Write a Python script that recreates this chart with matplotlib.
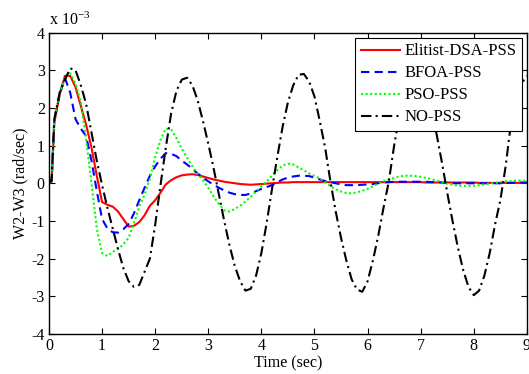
import numpy as np
import matplotlib
matplotlib.use("Agg")
import matplotlib.pyplot as plt

plt.rcParams['font.family'] = ['Liberation Serif', 'DejaVu Serif']
plt.rcParams['mathtext.fontset'] = 'stix'
plt.rcParams['axes.unicode_minus'] = False

# time grid (sec)
t_early = [0.0, 0.05]
t_main = np.round(np.arange(0.1, 9.0001, 0.1), 2)
time = np.concatenate([t_early, t_main])

# values in units of 1e-3 rad/sec
elitist_dsa = [0.0, 0.05,
    1.6, 2.35, 2.85, 2.85, 2.55, 2.05, 1.55, 0.95, 0.2, -0.5,
    -0.57, -0.62, -0.75, -0.95, -1.15, -1.13, -1.03, -0.85, -0.6, -0.45,
    -0.25, -0.03, 0.08, 0.16, 0.21, 0.23, 0.24, 0.22, 0.18, 0.14,
    0.1, 0.07, 0.04, 0.02, 0.0, -0.02, -0.03, -0.04, -0.03, -0.02,
    -0.01, 0.0, 0.01, 0.02, 0.02, 0.03, 0.03, 0.03, 0.03, 0.03,
    0.03, 0.03, 0.03, 0.03, 0.03, 0.03, 0.03, 0.03, 0.03, 0.03,
    0.03, 0.03, 0.03, 0.03, 0.03, 0.03, 0.03, 0.03, 0.03, 0.03,
    0.02, 0.02, 0.02, 0.02, 0.02, 0.02, 0.02, 0.02, 0.02, 0.02,
    0.01, 0.01, 0.01, 0.01, 0.01, 0.01, 0.01, 0.01, 0.01, 0.01]

bfoa = [0.0, 0.05,
    1.7, 2.35, 2.8, 2.4, 1.7, 1.45, 1.25, 0.6, -0.2, -0.95,
    -1.2, -1.3, -1.31, -1.22, -1.08, -0.8, -0.45, -0.12, 0.2, 0.45,
    0.65, 0.8, 0.78, 0.72, 0.6, 0.5, 0.38, 0.26, 0.15, 0.05,
    -0.04, -0.12, -0.19, -0.25, -0.29, -0.31, -0.31, -0.27, -0.21, -0.15,
    -0.1, -0.05, 0.03, 0.1, 0.15, 0.18, 0.2, 0.2, 0.19, 0.15,
    0.1, 0.06, 0.03, 0.0, -0.03, -0.05, -0.05, -0.05, -0.04, -0.03,
    -0.02, 0.0, 0.02, 0.03, 0.04, 0.04, 0.04, 0.04, 0.04, 0.04,
    0.04, 0.03, 0.03, 0.02, 0.01, 0.0, 0.0, 0.0, 0.0, 0.0,
    0.0, 0.0, 0.0, 0.0, 0.0, 0.01, 0.01, 0.02, 0.02, 0.02]

pso = [0.0, 0.05,
    1.7, 2.35, 2.8, 2.92, 2.65, 2.15, 1.15, 0.0, -1.2, -1.85,
    -1.93, -1.82, -1.75, -1.62, -1.45, -1.05, -0.62, -0.3, 0.12, 0.7,
    1.15, 1.45, 1.42, 1.2, 0.92, 0.68, 0.45, 0.25, 0.08, -0.12,
    -0.35, -0.55, -0.72, -0.75, -0.68, -0.6, -0.48, -0.36, -0.22, -0.08,
    0.05, 0.2, 0.35, 0.47, 0.52, 0.5, 0.42, 0.34, 0.26, 0.19,
    0.13, 0.03, -0.08, -0.16, -0.22, -0.26, -0.27, -0.24, -0.2, -0.15,
    -0.08, -0.01, 0.05, 0.1, 0.14, 0.18, 0.2, 0.2, 0.19, 0.17,
    0.14, 0.11, 0.07, 0.03, -0.01, -0.04, -0.06, -0.07, -0.07, -0.07,
    -0.05, -0.03, -0.01, 0.01, 0.03, 0.05, 0.06, 0.07, 0.07, 0.07]

no_pss = [0.0, 0.1,
    1.7, 2.4, 2.75, 3.05, 3.0, 2.6, 2.1, 1.35, 0.6, -0.05,
    -0.65, -1.2, -1.75, -2.25, -2.6, -2.75, -2.7, -2.35, -2.0, -1.1,
    -0.05, 0.95, 1.85, 2.45, 2.75, 2.8, 2.6, 2.2, 1.65, 1.05,
    0.4, -0.3, -1.0, -1.65, -2.2, -2.6, -2.85, -2.8, -2.45, -1.85,
    -1.05, -0.15, 0.7, 1.5, 2.15, 2.6, 2.88, 2.9, 2.7, 2.3,
    1.65, 0.95, 0.05, -0.75, -1.45, -2.05, -2.55, -2.82, -2.88, -2.6,
    -2.05, -1.4, -0.65, 0.05, 1.0, 1.8, 2.35, 2.7, 2.88, 2.8,
    2.5, 1.95, 1.3, 0.55, -0.25, -1.0, -1.7, -2.3, -2.75, -2.97,
    -2.85, -2.45, -1.85, -1.1, -0.45, 0.45, 1.6, 2.25, 2.65, 2.85]

labels = ['Elitist-DSA-PSS', 'BFOA-PSS', 'PSO-PSS', 'NO-PSS']
x_ticks = list(range(0, 10))
y_ticks = list(range(-4, 5))

fig = plt.figure(figsize=(5.29, 3.74), dpi=100)
ax = fig.add_axes([0.0926, 0.107, 0.9034, 0.806])

ax.plot(time, elitist_dsa, color='#ff0000', lw=1.5, ls='-', label=labels[0])
ax.plot(time, bfoa, color='#0000ff', lw=1.5, ls=(0, (4, 2.5)), label=labels[1])
ax.plot(time, pso, color='#00ff00', lw=1.5, ls=(0, (1, 1.2)), label=labels[2])
ax.plot(time, no_pss, color='black', lw=1.5, ls=(0, (5, 2, 1, 2)), label=labels[3])

ax.set_xlim(0, 9)
ax.set_ylim(-4, 4)
ax.set_xticks(x_ticks)
ax.set_yticks(y_ticks)
ax.tick_params(direction='in', top=True, right=True, labelsize=11.5, length=4, width=0.8, pad=3)
for s in ax.spines.values():
    s.set_linewidth(1.0)

ax.set_xlabel('Time (sec)', fontsize=11.5, labelpad=1)
ax.set_ylabel('W2-W3 (rad/sec)', fontsize=11.5, labelpad=2)
ax.text(0.0, 1.012, r'x 10$^{\mathregular{-3}}$', transform=ax.transAxes, fontsize=11.5,
        ha='left', va='bottom')

leg = ax.legend(loc='upper right', fontsize=12, frameon=True, fancybox=False,
                edgecolor='black', framealpha=1, handlelength=2.35, borderpad=0.35,
                labelspacing=0.36, handletextpad=0.25, borderaxespad=0.3)
leg.get_frame().set_linewidth(0.8)

fig.savefig('out.png', dpi=100)
